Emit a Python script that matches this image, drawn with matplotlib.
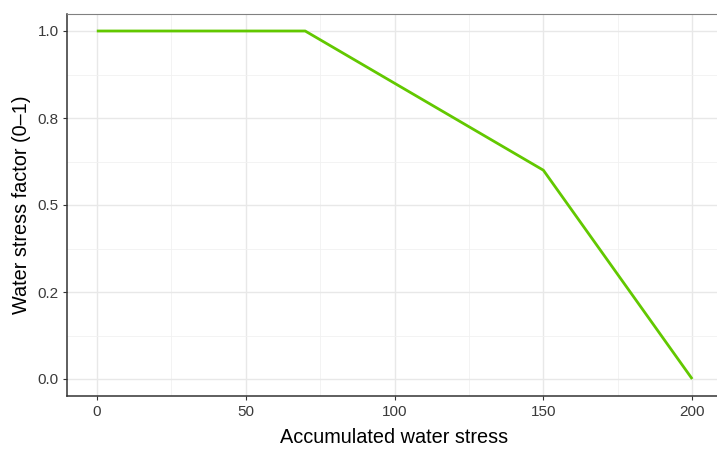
import matplotlib
matplotlib.use("Agg")
import matplotlib.pyplot as plt
from matplotlib.ticker import FixedLocator

# data
stress = [0, 70, 150, 200]
factor = [1.0, 1.0, 0.6, 0.0]

x_ticks = [0, 50, 100, 150, 200]
x_minor = [25, 75, 125, 175]
y_ticks = [0.0, 0.25, 0.5, 0.75, 1.0]
y_labels = ["0.0", "0.2", "0.5", "0.8", "1.0"]
y_minor = [0.125, 0.375, 0.625, 0.875]

plt.rcParams["font.family"] = ["Liberation Sans", "DejaVu Sans"]

fig = plt.figure(figsize=(7.17, 4.5), dpi=100)
ax = fig.add_axes([67 / 717, 53.6 / 450, 655 / 717, 382.8 / 450])

ax.plot(stress, factor, color="#62c800", lw=2.0, solid_capstyle="butt", zorder=3)

ax.set_xlim(-10, 210)
ax.set_ylim(-0.05, 1.05)
ax.set_xticks(x_ticks)
ax.set_yticks(y_ticks)
ax.set_yticklabels(y_labels)
ax.xaxis.set_minor_locator(FixedLocator(x_minor))
ax.yaxis.set_minor_locator(FixedLocator(y_minor))

ax.grid(which="major", color="#e8e8e8", lw=1.0, zorder=0)
ax.grid(which="minor", color="#f1f1f1", lw=0.6, zorder=0)
ax.set_axisbelow(True)

ax.tick_params(which="major", length=3, width=0.8, color="#333333",
               labelsize=11, labelcolor="#3a3a3a", pad=3)
ax.tick_params(which="minor", length=0)

for side in ["left", "bottom"]:
    ax.spines[side].set_color("#333333")
    ax.spines[side].set_linewidth(1.1)
ax.spines["top"].set_color("#808080")
ax.spines["top"].set_linewidth(0.8)
ax.spines["right"].set_visible(False)

ax.set_xlabel("Accumulated water stress", fontsize=14.3, color="black", labelpad=7)
ax.set_ylabel("Water stress factor (0\u20131)", fontsize=14.3, color="black", labelpad=5)

fig.savefig("out.png", dpi=100)
